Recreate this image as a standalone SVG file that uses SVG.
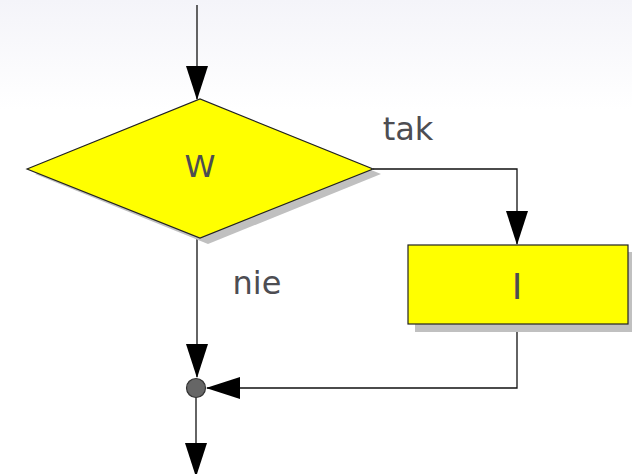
<svg xmlns="http://www.w3.org/2000/svg" width="632" height="474" viewBox="0 0 632 474">
<defs>
<linearGradient id="bg" x1="0" y1="0" x2="0" y2="1">
<stop offset="0" stop-color="#f4f4f9"/>
<stop offset="1" stop-color="#ffffff"/>
</linearGradient>
<marker id="arr" markerWidth="34" markerHeight="22" refX="33" refY="11" orient="auto" markerUnits="userSpaceOnUse" viewBox="0 0 34 22">
<path d="M0,0 L34,11 L0,22 Z" fill="#000"/>
</marker>
</defs>
<style>
.shape{fill:#ffff00;stroke:#222;stroke-width:1.2}
.shadow{fill:#c0c0c0}
.line{fill:none;stroke:#111;stroke-width:1.3}
.lbl{font-family:"DejaVu Sans",sans-serif;fill:#4d4d52;text-anchor:middle}
</style>
<rect x="0" y="0" width="632" height="110" fill="url(#bg)"/>
<rect x="0" y="110" width="632" height="364" fill="#fff"/>
<g id="connectors">
<line class="line" x1="197" y1="5" x2="197" y2="99" marker-end="url(#arr)"/>
<polyline class="line" points="373,169 517,169 517,244" marker-end="url(#arr)"/>
<line class="line" x1="197" y1="238" x2="197" y2="377" marker-end="url(#arr)"/>
<polyline class="line" points="517,325 517,388 207,388" marker-end="url(#arr)"/>
<line class="line" x1="196" y1="397" x2="196" y2="476" marker-end="url(#arr)"/>
</g>
<g id="decision">
<polygon class="shadow" points="35,174 208,104 381,174 208,244"/>
<polygon class="shape" points="27,169 200,99 373,169 200,238"/>
<text class="lbl" x="200" y="177" font-size="30" textLength="31" lengthAdjust="spacingAndGlyphs">W</text>
</g>
<g id="label-tak"><text class="lbl" x="408" y="140" font-size="32">tak</text></g>
<g id="label-nie"><text class="lbl" x="257" y="294" font-size="32">nie</text></g>
<g id="process">
<rect class="shadow" x="415" y="252" width="220" height="80"/>
<rect class="shape" x="408" y="245" width="220" height="79"/>
<text class="lbl" x="517" y="299" font-size="36">I</text>
</g>
<g id="junction">
<circle cx="196" cy="388" r="9.5" fill="#666" stroke="#333" stroke-width="1.2"/>
</g>
</svg>
